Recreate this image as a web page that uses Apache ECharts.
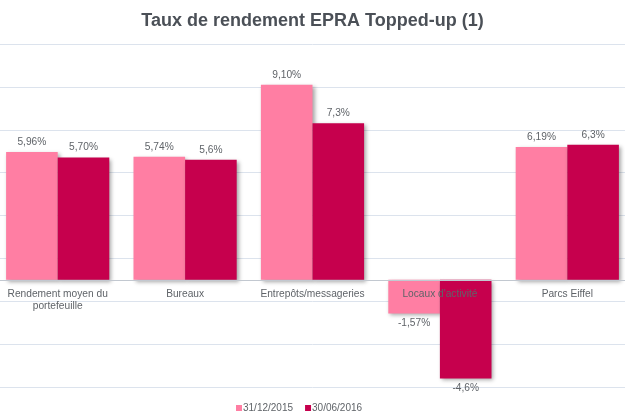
<!DOCTYPE html>
<html>
<head>
<meta charset="utf-8">
<script src="https://cdn.jsdelivr.net/npm/echarts@6/dist/echarts.min.js"></script>
<style>
  html, body { margin: 0; padding: 0; background: #fff; }
  #chart { width: 625px; height: 414px; }
</style>
</head>
<body>
<div id="chart"></div>
<script>
// Data
const categories = ['Rendement moyen du\nportefeuille', 'Bureaux', 'Entrepôts/messageries', "Locaux d'activité", 'Parcs Eiffel'];
const seriesNames = ['31/12/2015', '30/06/2016'];
const values2015 = [5.96, 5.74, 9.10, -1.57, 6.19];
const values2016 = [5.70, 5.6, 7.3, -4.6, 6.3];
const labels2015 = ['5,96%', '5,74%', '9,10%', '-1,57%', '6,19%'];
const labels2016 = ['5,70%', '5,6%', '7,3%', '-4,6%', '6,3%'];
const yMin = -5;
const yMax = 11;

const colors = ['#ff7ea3', '#c6004d'];
const textColor = '#5f6368';
const gridColor = '#dce3ed';
const font = 'Liberation Sans';

const gridTop = 44;
const gridBottom = 27;
const plotHeight = 414 - gridTop - gridBottom;

const chart = echarts.init(document.getElementById('chart'));

const makeSeries = (name, values, labels, color) => ({
    name: name,
    type: 'bar',
    yAxisIndex: 0,
    barGap: '0%',
    barCategoryGap: '19%',
    data: values.map(v => ({ value: v, label: { position: v < 0 ? 'bottom' : 'top' } })),
    itemStyle: {
        color: color,
        shadowBlur: 4,
        shadowOffsetX: 2,
        shadowOffsetY: 2,
        shadowColor: 'rgba(0,0,0,0.35)'
    },
    label: {
        show: true,
        distance: 5,
        color: textColor,
        fontSize: 10.2,
        fontFamily: font,
        formatter: p => labels[p.dataIndex]
    }
});

const option = {
    animation: false,
    backgroundColor: '#fff',
    title: {
        text: 'Taux de rendement EPRA Topped-up (1)',
        left: 'center',
        top: 7,
        textStyle: { fontSize: 18, fontWeight: 'bold', color: '#4b5057', fontFamily: font }
    },
    legend: {
        data: seriesNames,
        left: 231,
        top: 398,
        icon: 'rect',
        itemWidth: 6,
        itemHeight: 6,
        itemGap: 12,
        textStyle: { fontSize: 10, color: textColor, fontFamily: font, padding: [0, 0, 0, -4] }
    },
    grid: { left: -6, right: -6, top: gridTop, bottom: gridBottom, containLabel: false, outerBoundsMode: 'none' },
    xAxis: {
        type: 'category',
        data: categories,
        z: 10,
        // category axis sits on the zero line of the value axis
        offset: -plotHeight * (0 - yMin) / (yMax - yMin),
        axisTick: { show: false },
        axisLine: { onZero: false, lineStyle: { color: '#c2c8d0', width: 1 } },
        axisLabel: { interval: 0, margin: 8, color: textColor, fontSize: 10.2, lineHeight: 12, fontFamily: font }
    },
    yAxis: [{
        type: 'value',
        min: yMin,
        max: yMax,
        axisLabel: { show: false },
        axisLine: { show: false },
        axisTick: { show: false },
        splitLine: { show: false }
    }, {
        // helper axis only for the gridlines (which sit on odd values)
        type: 'value',
        min: 0,
        max: yMax - yMin,
        interval: 2,
        position: 'left',
        axisLabel: { show: false },
        axisLine: { show: false },
        axisTick: { show: false },
        splitLine: { show: true, lineStyle: { color: gridColor, width: 1 } }
    }],
    series: [
        makeSeries(seriesNames[0], values2015, labels2015, colors[0]),
        makeSeries(seriesNames[1], values2016, labels2016, colors[1])
    ]
};

chart.setOption(option);
</script>
</body>
</html>
